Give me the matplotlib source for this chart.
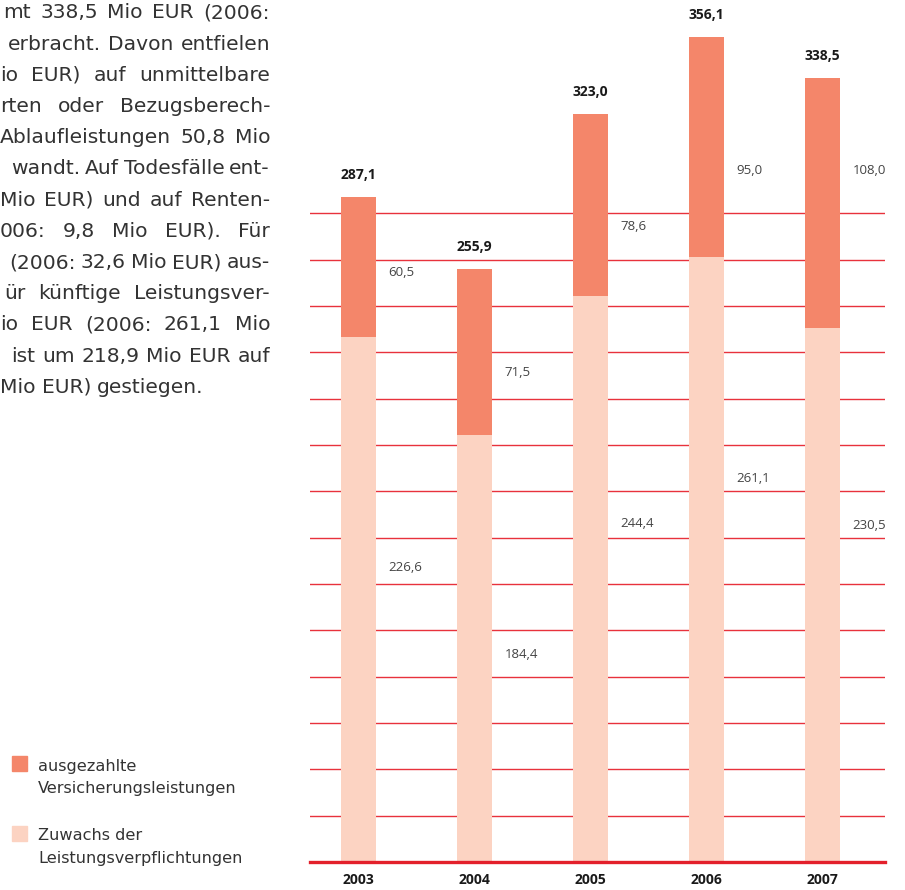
import matplotlib.pyplot as plt

years = ['2003', '2004', '2005', '2006', '2007']
zuwachs = [226.6, 184.4, 244.4, 261.1, 230.5]
ausgezahlt = [60.5, 71.5, 78.6, 95.0, 108.0]
totals = [287.1, 255.9, 323.0, 356.1, 338.5]
zuwachs_lbl = ['226,6', '184,4', '244,4', '261,1', '230,5']
ausgezahlt_lbl = ['60,5', '71,5', '78,6', '95,0', '108,0']
total_lbl = ['287,1', '255,9', '323,0', '356,1', '338,5']

# where the segment labels sit (data units)
zuwachs_lbl_y = [127, 89.8, 146, 165.7, 145.4]
ausgezahlt_lbl_y = [254.6, 211.5, 274.5, 298.7, 298.7]

paragraph = [
    'mt 338,5 Mio EUR (2006:',
    'erbracht. Davon entfielen',
    'io EUR) auf unmittelbare',
    'rten oder Bezugsberech-',
    'Ablaufleistungen 50,8 Mio',
    'wandt. Auf Todesfälle ent-',
    'Mio EUR) und auf Renten-',
    '006: 9,8 Mio EUR). Für',
    '(2006: 32,6 Mio EUR) aus-',
    'ür künftige Leistungsver-',
    'io EUR (2006: 261,1 Mio',
    'ist um 218,9 Mio EUR auf',
    'Mio EUR) gestiegen.',
]
para_left = [3, 8, 0, 0, 0, 11, 0, 0, 9, 4, 0, 11, 0]

dark = '#F4866A'
light = '#FCD3C2'
red = '#E8323C'
W, H = 905, 890

plt.rcParams['font.family'] = ['Open Sans', 'DejaVu Sans']
fig = plt.figure(figsize=(W / 100, H / 100), dpi=100)
ax = fig.add_axes([310 / W, 28 / H, 575 / W, 857 / H])

x = list(range(len(years)))
bw = 0.30
for v in range(20, 300, 20):
    ax.axhline(v, color=red, lw=1.0, zorder=0)
ax.axhline(0, color='#E3202B', lw=2.4, zorder=3, clip_on=False)

ax.bar(x, zuwachs, width=bw, color=light, zorder=2)
ax.bar(x, ausgezahlt, width=bw, bottom=zuwachs, color=dark, zorder=2)

for i in x:
    ax.text(i + bw / 2 + 0.11, ausgezahlt_lbl_y[i], ausgezahlt_lbl[i], fontsize=9.5,
            color='#444444', va='center', ha='left')
    ax.text(i + bw / 2 + 0.11, zuwachs_lbl_y[i], zuwachs_lbl[i], fontsize=9.5,
            color='#444444', va='center', ha='left')
    ax.annotate(total_lbl[i], (i, totals[i]), xytext=(0, 16), textcoords='offset points',
                ha='center', va='center', fontsize=10, fontweight='bold', color='#1a1a1a')

ax.set_xlim(-0.418, 4.539)
ax.set_ylim(0, 370)
ax.set_xticks(x, years, fontsize=10, fontweight='bold', color='#1a1a1a')
ax.set_yticks([])
ax.tick_params(axis='x', length=0, pad=8)
for s in ax.spines.values():
    s.set_visible(False)

# justified paragraph, cut at the left edge
fig.canvas.draw()
renderer = fig.canvas.get_renderer()
right = 270
for k, line in enumerate(paragraph):
    base = 18.5 + k * 31.2
    words = line.split()
    texts = [fig.text(0, 0, w, fontsize=14.6, family='DejaVu Sans', color='#333333',
                      va='baseline', ha='left') for w in words]
    widths = [t.get_window_extent(renderer).width for t in texts]
    if k < len(paragraph) - 1 and len(words) > 1:
        gap = (right - para_left[k] - sum(widths)) / (len(words) - 1)
    else:
        gap = 6
    xp = para_left[k]
    for t, w in zip(texts, widths):
        t.set_position((xp / W, 1 - base / H))
        xp += w + gap

# legend
for y0, col, l1, l2 in [(756, dark, 'ausgezahlte', 'Versicherungsleistungen'),
                        (826, light, 'Zuwachs der', 'Leistungsverpflichtungen')]:
    fig.patches.append(plt.Rectangle((12 / W, 1 - (y0 + 15) / H), 15 / W, 15 / H,
                                     color=col, transform=fig.transFigure))
    fig.text(38 / W, 1 - (y0 + 10) / H, l1, fontsize=11.6, family='DejaVu Sans',
             color='#333333', va='center')
    fig.text(38 / W, 1 - (y0 + 32) / H, l2, fontsize=11.6, family='DejaVu Sans',
             color='#333333', va='center')

fig.savefig('out.png', dpi=100)
